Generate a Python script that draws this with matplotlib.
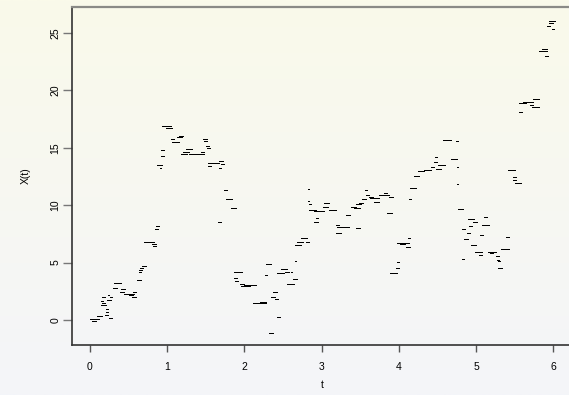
import numpy as np
import matplotlib
matplotlib.use("Agg")
import matplotlib.pyplot as plt

plt.rcParams["font.family"] = ["Liberation Sans", "DejaVu Sans"]

# jump process path: each entry is one flat piece (start time, end time, level)
t_start = [0.00, 0.03, 0.09, 0.14, 0.15, 0.14, 0.15, 0.19, 0.21, 0.21, 0.22, 0.23, 0.25, 0.26,
           0.30, 0.31, 0.39, 0.40, 0.44, 0.50, 0.54, 0.56, 0.61, 0.63, 0.64, 0.65, 0.67, 0.70,
           0.80, 0.82, 0.84, 0.85, 0.87, 0.90, 0.92, 0.92, 0.93, 0.98, 1.05, 1.06, 1.13, 1.15,
           1.18, 1.20, 1.24, 1.28, 1.40, 1.44, 1.46, 1.47, 1.50, 1.52, 1.53, 1.53, 1.67, 1.69,
           1.67, 1.66, 1.73, 1.76, 1.82, 1.86, 1.86, 1.88, 1.94, 1.95, 2.00, 2.11, 2.20, 2.26,
           2.28, 2.32, 2.34, 2.37, 2.39, 2.42, 2.42, 2.47, 2.53, 2.60, 2.55, 2.63, 2.65, 2.66,
           2.68, 2.73, 2.79, 2.82, 2.82, 2.83, 2.83, 2.90, 2.92, 2.90, 3.03, 3.02, 3.09, 3.18,
           3.20, 3.18, 3.44, 3.32, 3.38, 3.42, 3.45, 3.48, 3.52, 3.57, 3.56, 3.61, 3.63, 3.68,
           3.74, 3.80, 3.87, 3.84, 3.97, 4.01, 3.89, 3.96, 3.97, 4.06, 4.09, 4.12, 4.13, 4.14,
           4.19, 4.24, 4.32, 4.41, 4.45, 4.48, 4.51, 4.46, 4.57, 4.67, 4.74, 4.75, 4.75, 4.77,
           4.84, 4.82, 4.90, 4.91, 4.88, 4.93, 4.96, 4.99, 5.03, 5.05, 4.81, 5.10, 5.08, 5.12,
           5.15, 5.18, 5.25, 5.27, 5.28, 5.28, 5.32, 5.39, 5.41, 5.47, 5.48, 5.50, 5.56, 5.56,
           5.61, 5.69, 5.74, 5.72, 5.76, 5.81, 5.85, 5.89, 5.94, 5.94, 5.92, 5.98]
t_end = [0.12, 0.08, 0.16, 0.21, 0.20, 0.17, 0.19, 0.23, 0.23, 0.23, 0.27, 0.25, 0.28, 0.29,
         0.35, 0.40, 0.44, 0.45, 0.57, 0.56, 0.60, 0.60, 0.66, 0.66, 0.67, 0.68, 0.72, 0.83,
         0.85, 0.86, 0.88, 0.89, 0.93, 0.92, 0.96, 0.96, 1.05, 1.06, 1.09, 1.15, 1.19, 1.20,
         1.25, 1.28, 1.32, 1.47, 1.46, 1.48, 1.51, 1.51, 1.54, 1.55, 1.67, 1.57, 1.72, 1.74,
         1.70, 1.70, 1.77, 1.84, 1.89, 1.97, 1.90, 1.92, 2.00, 2.07, 2.15, 2.28, 2.28, 2.29,
         2.34, 2.37, 2.39, 2.42, 2.43, 2.46, 2.51, 2.55, 2.57, 2.62, 2.64, 2.68, 2.67, 2.73,
         2.76, 2.81, 2.83, 2.84, 2.84, 2.86, 2.92, 3.03, 2.95, 2.95, 3.10, 3.08, 3.18, 3.22,
         3.35, 3.25, 3.49, 3.37, 3.45, 3.49, 3.51, 3.53, 3.57, 3.61, 3.59, 3.67, 3.74, 3.74,
         3.87, 3.85, 3.92, 3.91, 4.06, 4.08, 3.97, 4.00, 4.00, 4.13, 4.14, 4.14, 4.15, 4.22,
         4.26, 4.32, 4.41, 4.45, 4.49, 4.55, 4.59, 4.49, 4.67, 4.75, 4.76, 4.77, 4.77, 4.83,
         4.90, 4.86, 4.97, 4.95, 4.92, 5.00, 5.01, 5.07, 5.07, 5.09, 4.84, 5.14, 5.12, 5.16,
         5.25, 5.22, 5.29, 5.30, 5.31, 5.33, 5.42, 5.43, 5.50, 5.51, 5.52, 5.58, 5.64, 5.59,
         5.74, 5.74, 5.81, 5.76, 5.81, 5.91, 5.91, 5.93, 6.02, 6.00, 5.96, 6.01]
x_level = [0.10, -0.05, 0.35, 1.30, 1.50, 1.65, 2.00, 0.43, 0.95, 0.70, 1.75, 2.20, 0.20, 2.00,
           2.80, 3.20, 2.45, 2.70, 2.25, 2.20, 2.00, 2.45, 3.50, 4.20, 4.35, 4.50, 4.70, 6.80,
           6.60, 6.45, 7.90, 8.20, 13.50, 13.25, 14.30, 14.80, 16.90, 16.70, 15.80, 15.50, 15.90, 16.00,
           14.50, 14.60, 14.90, 14.50, 14.45, 14.60, 15.80, 15.60, 15.20, 15.00, 13.70, 13.40, 13.85, 13.60,
           13.25, 8.50, 11.30, 10.50, 9.75, 4.20, 3.65, 3.40, 3.10, 2.95, 3.05, 1.50, 1.55, 3.90,
           4.90, -1.10, 2.00, 2.40, 1.80, 0.25, 4.10, 4.40, 4.20, 4.20, 3.15, 3.60, 5.15, 6.50,
           6.80, 7.10, 6.80, 11.40, 10.40, 10.10, 9.60, 9.50, 8.90, 8.50, 10.20, 9.85, 9.60, 8.30,
           8.10, 7.60, 8.00, 9.15, 9.85, 9.75, 10.10, 10.20, 10.55, 10.90, 11.30, 10.70, 10.60, 10.30,
           10.90, 11.05, 10.70, 9.30, 6.70, 6.60, 4.10, 4.50, 5.05, 6.70, 6.35, 7.10, 10.50, 11.50,
           12.55, 13.00, 13.05, 13.30, 13.75, 13.15, 13.50, 14.20, 15.70, 14.05, 15.60, 13.30, 11.85, 9.65,
           7.05, 7.90, 8.80, 8.20, 7.55, 6.50, 8.50, 5.90, 5.65, 7.40, 5.30, 9.00, 8.30, 8.30,
           5.90, 5.85, 5.55, 5.20, 5.10, 4.50, 6.20, 7.20, 13.05, 12.45, 12.20, 11.95, 18.90, 18.10,
           19.00, 18.70, 19.25, 18.60, 18.55, 23.40, 23.60, 23.00, 26.05, 25.90, 25.60, 25.35]

x_ticks = [0, 1, 2, 3, 4, 5, 6]
y_ticks = [0, 5, 10, 15, 20, 25]

fig = plt.figure(figsize=(5.69, 3.95), dpi=100)

# soft vertical gradient behind everything
bg = fig.add_axes([0, 0, 1, 1], zorder=-10)
top = np.array([250, 250, 234]) / 255
bottom = np.array([244, 245, 249]) / 255
grad = np.linspace(0, 1, 256)[:, None, None]
bg.imshow(top * (1 - grad) + bottom * grad, aspect="auto", extent=[0, 1, 0, 1])
bg.set_axis_off()

ax = fig.add_axes([72 / 569, 50 / 395, 500 / 569, 338 / 395])
ax.set_facecolor("none")
ax.hlines(x_level, t_start, t_end, colors="black", linewidth=0.72, antialiased=False)

ax.set_xlim(-0.233, 6.24)
ax.set_ylim(-2.18, 27.27)
ax.set_xticks(x_ticks)
ax.set_yticks(y_ticks)
ax.set_yticklabels([str(v) for v in y_ticks], rotation=90, va="center")

ax.spines["right"].set_visible(False)
ax.spines["left"].set_color("#333333")
ax.spines["bottom"].set_color("#333333")
ax.spines["top"].set_color("#8a8a86")
for s in ["left", "bottom"]:
    ax.spines[s].set_linewidth(1.2)
ax.spines["top"].set_linewidth(1.6)

ax.tick_params(axis="x", length=5, width=1.0, color="#555555", labelsize=7.5, pad=7)
ax.tick_params(axis="y", length=6.5, width=1.0, color="#777777", labelsize=7.5, pad=2)

ax.set_xlabel("t", fontsize=7.5, labelpad=6)
ax.set_ylabel("X(t)", fontsize=7.5, labelpad=14)

fig.savefig("out.png", dpi=100)
